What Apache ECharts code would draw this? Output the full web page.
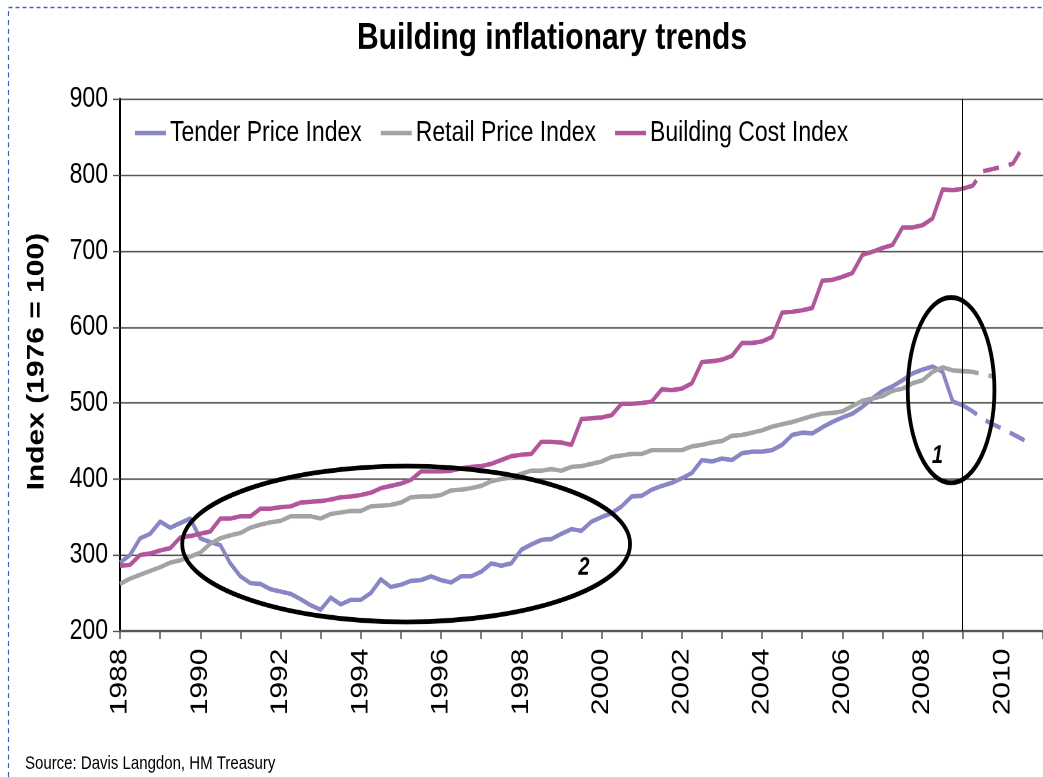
<!DOCTYPE html>
<html>
<head>
<meta charset="utf-8">
<title>Building inflationary trends</title>
<script src="https://cdn.jsdelivr.net/npm/echarts@6/dist/echarts.min.js"></script>
<style>
  html, body { margin: 0; padding: 0; background: #fff; }
  #frame { width: 1043px; height: 777px; overflow: hidden; position: relative; }
  /* the chart is laid out on a 1043x622 canvas and shown stretched to 777px tall */
  #chart {
    position: absolute;
    left: 0; top: 0;
    width: 1043px;
    height: 622px;
    transform: scale(1, 1.24920);
    transform-origin: 0 0;
  }
</style>
</head>
<body>
<div id="frame"><div id="chart"></div></div>
<script>
// Quarterly index values (1976 = 100), starting 1988 Q1
const startYear = 1988;
const tenderPrice = [
  290, 300, 322, 328,   344, 336, 342, 348,   322, 317, 313, 289,   272, 263, 262, 255,
  252, 249, 242, 234,   228, 244, 235, 241,   241, 250, 268, 258,   261, 266, 267, 272,
  267, 264, 272, 272,   278, 289, 286, 289,   307, 314, 320, 321,   328, 334, 332, 344,
  350, 355, 364, 377,   378, 386, 391, 395,   401, 408, 425, 423,   427, 425, 434, 436,
  436, 438, 445, 458,   461, 460, 468, 475,   481, 486, 495, 506,   516, 522, 530, 539,
  544, 548, 541, 502,   497
];
const retailPrice = [
  262, 269, 274, 279,   284, 290, 293, 298,   303, 315, 322, 326,   329, 336, 340, 343,
  345, 351, 351, 351,   348, 354, 356, 358,   358, 364, 365, 366,   369, 376, 377, 377,
  379, 385, 386, 388,   391, 397, 400, 402,   407, 411, 411, 413,   411, 416, 417, 420,
  423, 429, 431, 433,   433, 438, 438, 438,   438, 443, 445, 448,   450, 457, 458, 461,
  464, 469, 472, 475,   479, 483, 486, 487,   489, 496, 503, 506,   509, 516, 519, 526,
  530, 541, 547, 543,   542
];
const buildingCost = [
  286, 287, 300, 302,   306, 309, 323, 325,   328, 331, 348, 348,   351, 351, 361, 361,
  363, 364, 369, 370,   371, 373, 376, 377,   379, 382, 388, 391,   394, 399, 410, 410,
  410, 411, 414, 416,   417, 420, 425, 430,   432, 433, 449, 449,   448, 445, 479, 480,
  481, 484, 499, 499,   500, 502, 518, 517,   519, 526, 554, 555,   557, 562, 579, 579,
  581, 587, 619, 620,   622, 625, 661, 662,   666, 671, 695, 699,   704, 708, 731, 731,
  734, 743, 781, 780,   782
];
// Forecast values, quarterly from 2009 Q1
const forecastStart = 2009;
const tenderForecast = [497, 489, 479, 472, 466, 459, 452, 445];
const retailForecast = [542, 541, 538, 535];
const buildingForecast = [782, 786, 805, 808, 811, 815, 837];

const seriesNames = ['Tender Price Index', 'Retail Price Index', 'Building Cost Index'];
const seriesColors = ['#8886c4', '#a3a3a3', '#b3559b'];
const yTicks = [200, 300, 400, 500, 600, 700, 800, 900];
const xLabelYears = [1988, 1990, 1992, 1994, 1996, 1998, 2000, 2002, 2004, 2006, 2008, 2010];
const forecastLineYear = 2009;

const sans = "'Liberation Sans', Arial, sans-serif";

function quarterly(values, first) {
  return values.map((v, i) => [first + i / 4, v]);
}

const actual = [tenderPrice, retailPrice, buildingCost];
const forecast = [tenderForecast, retailForecast, buildingForecast];

const series = [];
actual.forEach((vals, k) => {
  series.push({
    name: seriesNames[k],
    type: 'line',
    data: quarterly(vals, startYear),
    showSymbol: false,
    symbol: 'none',
    lineStyle: { color: seriesColors[k], width: 3.6, join: 'round' },
    itemStyle: { color: seriesColors[k] },
    emphasis: { disabled: true },
    z: 3
  });
});
forecast.forEach((vals, k) => {
  series.push({
    name: seriesNames[k],
    type: 'line',
    data: quarterly(vals, forecastStart),
    showSymbol: false,
    symbol: 'none',
    lineStyle: { color: seriesColors[k], width: 3.6, type: [16, 10] },
    itemStyle: { color: seriesColors[k] },
    emphasis: { disabled: true },
    z: 3
  });
});
// vertical divider between actual and forecast
series[0].markLine = {
  silent: true,
  symbol: ['none', 'none'],
  label: { show: false },
  lineStyle: { color: '#000', width: 1, type: 'solid' },
  data: [{ xAxis: forecastLineYear }]
};

const chart = echarts.init(document.getElementById('chart'), null, {
  renderer: 'canvas', devicePixelRatio: 2, width: 1043, height: 622
});

const option = {
  animation: false,
  backgroundColor: '#ffffff',
  title: {
    text: 'Building inflationary trends',
    left: 352,
    top: 10.5,
    textStyle: { fontFamily: sans, fontWeight: 'bold', fontSize: 30, color: '#000' }
  },
  legend: {
    data: seriesNames,
    left: 130,
    top: 90,
    icon: 'rect',
    itemWidth: 31,
    itemHeight: 3.4,
    itemGap: 19,
    textStyle: { fontFamily: sans, fontSize: 23, color: '#000', padding: [0, 0, 0, -1] }
  },
  grid: { left: 120, top: 79.25, width: 935, height: 425.9, containLabel: false },
  xAxis: {
    type: 'value',
    min: 1988,
    max: 2011,
    interval: 1,
    axisLine: { show: true, lineStyle: { color: '#555', width: 1.6 } },
    axisTick: { show: true, length: 6.4, lineStyle: { color: '#555', width: 1.5 } },
    splitLine: { show: false },
    axisLabel: {
      rotate: 90,
      margin: 14,
      fontFamily: sans,
      fontSize: 24,
      color: '#000',
      formatter: v => (xLabelYears.indexOf(v) >= 0 ? String(v) : '')
    }
  },
  yAxis: {
    type: 'value',
    min: yTicks[0],
    max: yTicks[yTicks.length - 1],
    interval: 100,
    axisLine: { show: true, lineStyle: { color: '#000', width: 2 } },
    axisTick: { show: true, length: 7, lineStyle: { color: '#555', width: 1.2 } },
    splitLine: { show: true, lineStyle: { color: '#555', width: 1.3 } },
    axisLabel: {
      margin: 12,
      fontFamily: sans,
      fontSize: 23,
      color: '#000',
      formatter: v => (yTicks.indexOf(v) >= 0 ? String(v) : '')
    }
  },
  series: series
};

chart.setOption(option);

// Annotations, placed in data space: [centre year, centre value, half-width (years), half-height (index)]
const ellipses = [
  [2008.71, 517, 1.08, 122],
  [1995.13, 314.5, 5.58, 102.5]
];
const notes = [
  ['1', 2008.37, 430],
  ['2', 1999.56, 283]
];

function px(x, y) { return chart.convertToPixel({ gridIndex: 0 }, [x, y]); }

const graphics = [
  {
    type: 'rect',
    silent: true,
    shape: { x: 8.5, y: 6, width: 1200, height: 900 },
    style: { fill: 'none', stroke: '#3b5fb3', lineWidth: 1.2, lineDash: [4, 3] },
    z: 0
  },
  {
    type: 'text',
    silent: true,
    x: 37, y: 289.5,
    rotation: Math.PI / 2,
    style: {
      text: 'Index (1976 = 100)',
      font: "bold 24px " + sans,
      fill: '#000',
      align: 'center', verticalAlign: 'middle',
      textAlign: 'center', textVerticalAlign: 'middle'
    }
  },
  {
    type: 'text',
    silent: true,
    x: 25, y: 611.5,
    style: {
      text: 'Source: Davis Langdon, HM Treasury',
      font: "15px " + sans,
      fill: '#000',
      align: 'left', verticalAlign: 'middle',
      textAlign: 'left', textVerticalAlign: 'middle'
    }
  }
];

ellipses.forEach(e => {
  const c = px(e[0], e[1]);
  const edge = px(e[0] + e[2], e[1] + e[3]);
  graphics.push({
    type: 'ellipse',
    silent: true,
    shape: { cx: c[0], cy: c[1], rx: Math.abs(edge[0] - c[0]), ry: Math.abs(edge[1] - c[1]) },
    style: { fill: 'none', stroke: '#000', lineWidth: 3.8 },
    z: 10
  });
});
notes.forEach(n => {
  const p = px(n[1], n[2]);
  graphics.push({
    type: 'text',
    silent: true,
    x: p[0], y: p[1],
    style: {
      text: n[0],
      font: "italic bold 20px " + sans,
      fill: '#000',
      align: 'center', verticalAlign: 'middle',
      textAlign: 'center', textVerticalAlign: 'middle'
    },
    z: 10
  });
});

chart.setOption({ graphic: graphics });
</script>
</body>
</html>
